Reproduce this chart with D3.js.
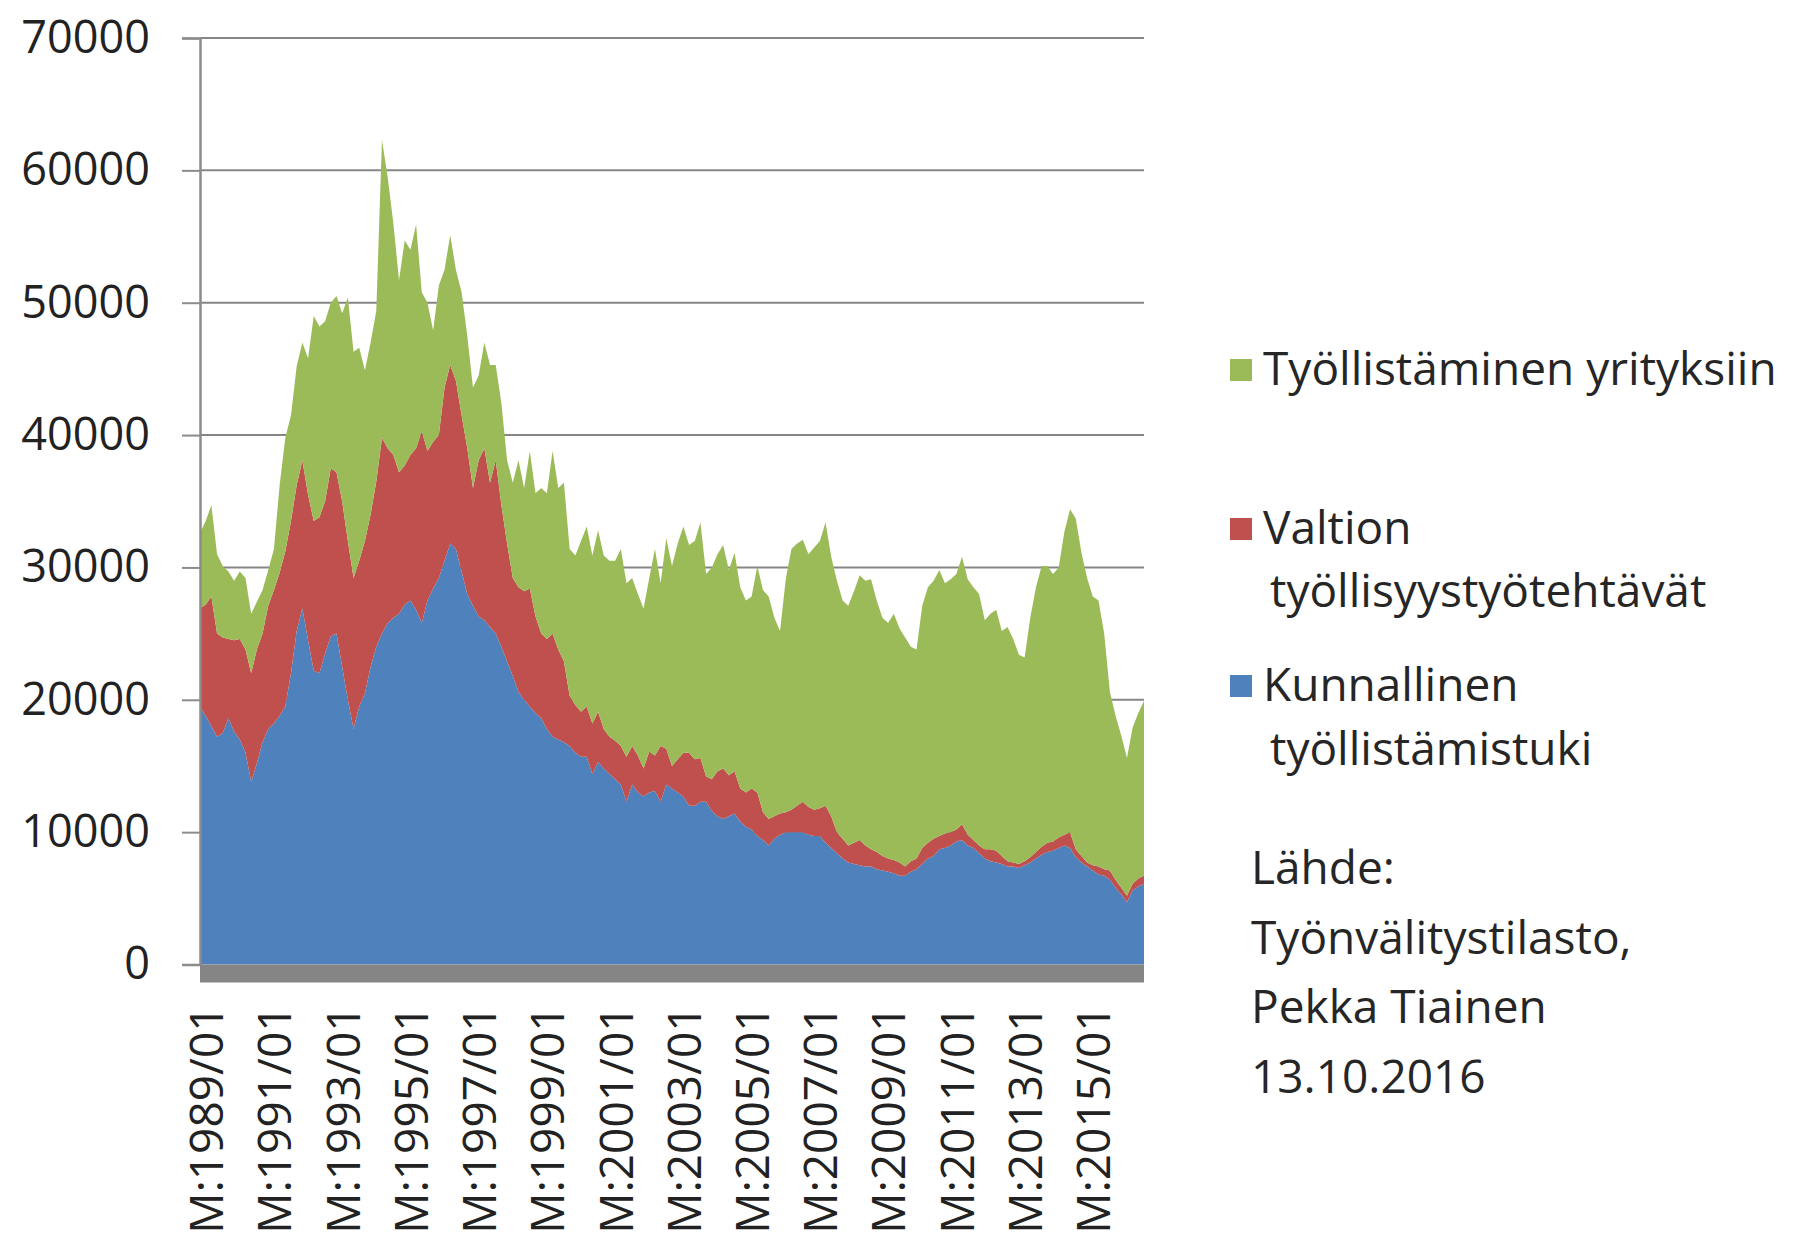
<!DOCTYPE html>
<html lang="fi">
<head>
<meta charset="UTF-8">
<title>Työllistämistuet 1989–2016</title>
<script src="https://d3js.org/d3.v7.min.js"></script>
<style>
  body { margin: 0; background: #fff; }
  svg { display: block; font-family: "Open Sans", sans-serif; }
</style>
</head>
<body>
<svg id="chart" width="1794" height="1239"></svg>
<script>
// joka toinen kuukausi 1989/01 - 2016/09 (luettu kuvasta, henkilöä)
const startYear = 1989;
const monthStep = 2;

const kunnallinen = [
  19500, 18800, 18000, 17200, 17500, 18600, 17600, 17000, 16000, 13800, 15200, 16800,
  17800, 18200, 18800, 19500, 22000, 25200, 26900, 24500, 22200, 22000, 23500, 24800,
  25000, 22500, 20000, 17800, 19500, 20500, 22500, 24000, 25000, 25800, 26200, 26500,
  27200, 27500, 26800, 25800, 27500, 28400, 29200, 30500, 31800, 31400, 29700, 28000,
  27100, 26300, 26000, 25500, 25000, 24000, 22900, 21800, 20600, 20000, 19500, 19000,
  18600, 17800, 17200, 17000, 16800, 16500, 16000, 15700, 15700, 14400, 15300, 14800,
  14400, 14000, 13600, 12300, 13600, 13000, 12700, 13000, 13100, 12300, 13600, 13300,
  13000, 12700, 12000, 12000, 12300, 12300, 11600, 11200, 11000, 11200, 11400, 10800,
  10400, 10200, 9700, 9400, 9000, 9500, 9800, 10000, 10000, 10000, 10000, 9800,
  9700, 9700, 9200, 8800, 8400, 8000, 7700, 7600, 7500, 7400, 7400, 7200,
  7100, 7000, 6900, 6700, 6700, 7000, 7200, 7600, 8000, 8200, 8700, 8800,
  9000, 9300, 9400, 9000, 8800, 8400, 8000, 7800, 7700, 7600, 7400, 7400,
  7300, 7500, 7700, 8000, 8300, 8500, 8600, 8800, 9000, 8800, 8100, 7700,
  7400, 7100, 6800, 6700, 6400, 5800, 5300, 4700, 5600, 5900, 6100
];

const valtion = [
  7400, 8400, 9800, 7800, 7200, 6000, 6900, 7600, 7800, 8200, 8600, 8200,
  9300, 10100, 10800, 11700, 11500, 11000, 11200, 11000, 11300, 11800, 11500, 12700,
  12200, 12500, 12000, 11400, 11000, 11500, 11500, 12500, 14800, 13200, 12300, 10700,
  10500, 11000, 12200, 14500, 11300, 11100, 10800, 13100, 13500, 12700, 11800, 11000,
  8900, 11800, 13000, 10900, 13100, 10700, 8900, 7400, 7900, 8200, 8900, 7300,
  6400, 6800, 7800, 6800, 6100, 3800, 3600, 3400, 3800, 3800, 3800, 3000,
  2800, 2900, 2900, 3400, 2900, 2800, 2100, 3100, 2700, 4200, 2700, 1700,
  2500, 3300, 4000, 3500, 3300, 1900, 2400, 3400, 3800, 3100, 3200, 2500,
  2600, 3100, 3300, 2100, 2000, 1700, 1600, 1500, 1700, 2000, 2300, 2100,
  2000, 2100, 2800, 2400, 1600, 1500, 1300, 1600, 1900, 1600, 1300, 1300,
  1100, 1000, 1000, 1000, 700, 800, 800, 1200, 1200, 1300, 1000, 1100,
  1000, 900, 1200, 800, 600, 600, 700, 900, 900, 600, 400, 300,
  300, 300, 400, 500, 600, 700, 700, 800, 800, 1200, 600, 500,
  300, 400, 600, 500, 700, 600, 500, 500, 500, 600, 600
];

const yritykset = [
  5700, 6300, 6900, 6000, 5400, 5100, 4500, 5100, 5400, 4500, 3600, 3300,
  2700, 3100, 6600, 8600, 8000, 9000, 8900, 10300, 15500, 14400, 13600, 12500,
  13300, 14200, 18400, 17100, 16100, 12900, 13000, 12900, 22500, 20500, 17500, 14500,
  17000, 15500, 16900, 10500, 11200, 8400, 11300, 8900, 9800, 8400, 9300, 8500,
  7600, 6400, 8000, 8900, 7200, 7700, 6300, 7200, 9600, 7800, 10400, 9300,
  11000, 11000, 13800, 12200, 13500, 11100, 11300, 12900, 13600, 12700, 13700, 13100,
  13300, 13600, 14900, 13100, 12700, 12200, 12100, 13100, 15600, 12300, 15900, 15100,
  16300, 17100, 15700, 16500, 17800, 15300, 16000, 16400, 16900, 15500, 16500, 15200,
  14500, 14500, 17100, 16800, 16800, 15000, 13800, 17600, 19700, 19800, 19800, 19100,
  19800, 20200, 21400, 19600, 19000, 18000, 18100, 19000, 20000, 20000, 20400, 19000,
  18000, 17800, 18600, 17700, 17300, 16200, 15800, 18300, 19300, 19500, 20100, 18900,
  19100, 19300, 20200, 19300, 19100, 19000, 17300, 17800, 18200, 17000, 17700, 16900,
  15800, 15400, 18100, 20000, 21200, 20900, 20200, 20400, 22900, 24400, 25000, 22900,
  21500, 20300, 20100, 17800, 13500, 12400, 11500, 10400, 11800, 12500, 13200
];

const seriesKeys = ["kunnallinen", "valtion", "yritykset"];
const seriesColors = ["#4f81bd", "#c0504d", "#9bbb59"];
const yTicks = [0, 10000, 20000, 30000, 40000, 50000, 60000, 70000];
const xTickLabels = ["M:1989/01", "M:1991/01", "M:1993/01", "M:1995/01", "M:1997/01",
  "M:1999/01", "M:2001/01", "M:2003/01", "M:2005/01", "M:2007/01", "M:2009/01",
  "M:2011/01", "M:2013/01", "M:2015/01"];
const legendItems = [
  { key: "yritykset", lines: ["Työllistäminen yrityksiin"] },
  { key: "valtion", lines: ["Valtion", "työllisyystyötehtävät"] },
  { key: "kunnallinen", lines: ["Kunnallinen", "työllistämistuki"] }
];
const sourceLines = ["Lähde:", "Työnvälitystilasto,", "Pekka Tiainen", "13.10.2016"];

// rivit pinottavaksi
const rows = kunnallinen.map((v, i) => ({
  m: i * monthStep,
  kunnallinen: v,
  valtion: valtion[i],
  yritykset: yritykset[i]
}));

const svg = d3.select("#chart");
const plotLeft = 200, plotRight = 1144, plotTop = 38, plotBottom = 964.5;

const x = d3.scaleLinear()
  .domain([0, (rows.length - 1) * monthStep])
  .range([plotLeft, plotRight]);
const y = d3.scaleLinear()
  .domain([0, 70000])
  .range([plotBottom, plotTop]);
const color = d3.scaleOrdinal().domain(seriesKeys).range(seriesColors);

// gridlines
svg.append("g")
  .selectAll("line")
  .data(yTicks.filter(d => d > 0))
  .join("line")
  .attr("x1", plotLeft).attr("x2", plotRight)
  .attr("y1", d => y(d)).attr("y2", d => y(d))
  .attr("stroke", "#868686")
  .attr("stroke-width", 2);

// areas
const stack = d3.stack().keys(seriesKeys);
const layers = stack(rows);
const area = d3.area()
  .x(d => x(d.data.m))
  .y0(d => y(d[0]))
  .y1(d => y(d[1]));

svg.append("g")
  .selectAll("path")
  .data(layers)
  .join("path")
  .attr("fill", d => color(d.key))
  .attr("d", area);

// y axis
const yAxis = d3.axisLeft(y)
  .tickValues(yTicks)
  .tickSize(18)
  .tickPadding(32)
  .tickFormat(d3.format("d"));

const yg = svg.append("g")
  .attr("transform", `translate(${plotLeft},0)`)
  .call(yAxis);
yg.select(".domain").attr("stroke", "#8c8c8c").attr("stroke-width", 2.5);
yg.selectAll(".tick line").attr("stroke", "#8c8c8c").attr("stroke-width", 2);
yg.selectAll(".tick text")
  .attr("font-family", "Open Sans, sans-serif")
  .attr("font-size", 45)
  .attr("fill", "#222");

// floor band under the series
svg.append("rect")
  .attr("x", plotLeft).attr("y", plotBottom)
  .attr("width", plotRight - plotLeft).attr("height", 18)
  .attr("fill", "#858585");

// x axis labels, rotated
const xAxis = d3.axisBottom(x)
  .tickValues(xTickLabels.map(s => (+s.slice(2, 6) - startYear) * 12))
  .tickSize(0)
  .tickFormat((d, i) => xTickLabels[i]);

const xg = svg.append("g")
  .attr("transform", `translate(6,${plotBottom + 41})`)
  .call(xAxis);
xg.select(".domain").remove();
xg.selectAll(".tick text")
  .attr("font-family", "Open Sans, sans-serif")
  .attr("font-size", 46)
  .attr("fill", "#222")
  .attr("text-anchor", "end")
  .attr("transform", "rotate(-90)")
  .attr("x", 0)
  .attr("y", 0)
  .attr("dy", "0.36em");

// legend
const legendRows = [
  { sq: 370, base: [385] },
  { sq: 529, base: [544, 607] },
  { sq: 686, base: [701, 765] }
];
const lg = svg.append("g");
legendItems.forEach((item, i) => {
  const pos = legendRows[i];
  lg.append("rect")
    .attr("x", 1230).attr("y", pos.sq - 11)
    .attr("width", 22).attr("height", 22)
    .attr("fill", color(item.key));
  item.lines.forEach((line, j) => {
    lg.append("text")
      .attr("x", j === 0 ? 1263 : 1270)
      .attr("y", pos.base[j])
      .attr("font-size", 46)
      .attr("fill", "#262626")
      .text(line);
  });
});

// source note
svg.append("g")
  .selectAll("text")
  .data(sourceLines)
  .join("text")
  .attr("x", 1251)
  .attr("y", (d, i) => 884 + i * 69.5)
  .attr("font-size", 46)
  .attr("fill", "#262626")
  .text(d => d);
</script>
</body>
</html>
